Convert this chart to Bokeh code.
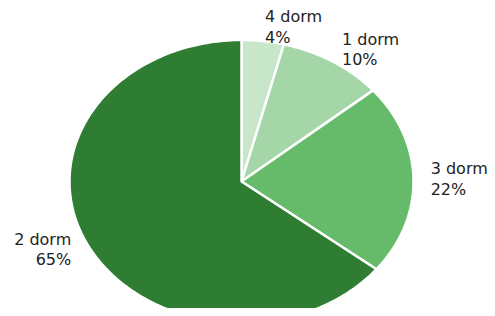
import numpy as np
from bokeh.plotting import figure
from bokeh.models import Range1d, ColumnDataSource
from bokeh.embed import file_html
from bokeh.resources import INLINE
from bokeh.core.properties import value

# data
labels = ["4 dorm", "1 dorm", "3 dorm", "2 dorm"]
shares = [4, 10, 22, 65]
colors = ["#c8e6c9", "#a5d6a7", "#66bb6a", "#2e7d32"]

W, H = 487, 308
p = figure(width=W, height=H, output_backend="svg", toolbar_location=None,
           x_range=Range1d(0, W), y_range=Range1d(H, 0), min_border=0)
p.axis.visible = False
p.grid.visible = False
p.outline_line_color = None
p.background_fill_color = "white"

cx, cy, rx, ry = 241, 181, 172, 141.5
frac = np.array(shares, dtype=float) / sum(shares)
edges = np.concatenate([[0], np.cumsum(frac)]) * 2 * np.pi

xs, ys = [], []
for a0, a1 in zip(edges[:-1], edges[1:]):
    t = np.linspace(a0, a1, 200)
    xs.append(list(np.concatenate([[cx], cx + rx * np.sin(t)])))
    ys.append(list(np.concatenate([[cy], cy - ry * np.cos(t)])))

p.patches(xs=xs, ys=ys, fill_color=colors, line_color="white", line_width=2.5)

mid = (edges[:-1] + edges[1:]) / 2
lx = cx + 1.1 * rx * np.sin(mid)
ly = cy - 1.1 * ry * np.cos(mid)
src = ColumnDataSource(dict(
    x=lx, y=ly,
    text=[f"{l}\n{s}%" for l, s in zip(labels, shares)],
    align=["left" if v >= cx else "right" for v in lx],
))
p.text(x="x", y="y", text="text", text_align="align", text_baseline="middle",
       text_font=value("DejaVu Sans"), text_font_size="16px", text_color="#222222",
       text_line_height=1.08, source=src)

open("out.html", "w").write(file_html(p, INLINE))
